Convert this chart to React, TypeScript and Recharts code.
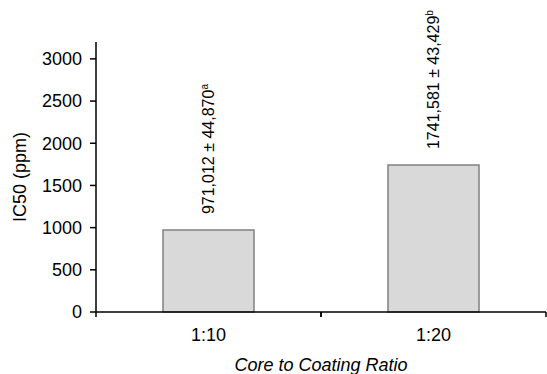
import { Bar, BarChart, Label, LabelList, XAxis, YAxis } from "recharts";

const ratios = ["1:10", "1:20"];
const ic50 = [971.012, 1741.581];
const ic50Notes = ["971,012 ± 44,870", "1741,581 ± 43,429"];
const letters = ["a", "b"];
const yTicks = [0, 500, 1000, 1500, 2000, 2500, 3000];

const data = ratios.map((ratio, i) => ({ ratio, ic50: ic50[i] }));

const W = 547;
const H = 374;
const LEFT = 96;
const RIGHT = 1;
const BAND = (W - LEFT - RIGHT) / ratios.length;
const FONT = "'Liberation Sans', Arial, sans-serif";

const XTick = (props: any) => {
  const { x, y, payload } = props;
  return (
    <g>
      <line x1={x - BAND / 2} x2={x - BAND / 2} y1={y} y2={y + 5} stroke="#000" strokeWidth={1.5} />
      <line x1={x + BAND / 2} x2={x + BAND / 2} y1={y} y2={y + 5} stroke="#000" strokeWidth={1.5} />
      <text x={x} y={y + 29} textAnchor="middle" fontSize={18} fill="#000" fontFamily={FONT}>
        {payload.value}
      </text>
    </g>
  );
};

const BarNote = (props: any) => {
  const { x, y, width, index } = props;
  const tx = x + width / 2 + 6;
  const ty = y - 16;
  return (
    <text x={tx} y={ty} transform={`rotate(-90 ${tx} ${ty})`} fontSize={16} fill="#000" fontFamily={FONT}>
      {ic50Notes[index]}
      <tspan fontSize={10} dy={-6}>{letters[index]}</tspan>
    </text>
  );
};

export default function App() {
  return (
    <div style={{ width: W, height: H }}>
      <style>{"body{margin:0}"}</style>
      <BarChart width={W} height={H} data={data} margin={{ top: 42, right: RIGHT, bottom: 0, left: 0 }}>
        <XAxis
          dataKey="ratio"
          height={62}
          tickSize={0}
          tickMargin={0}
          tick={<XTick />}
          axisLine={{ stroke: "#000", strokeWidth: 1.5 }}
        >
          <Label
            content={(p: any) => {
              const vb = p.viewBox;
              return (
                <text x={vb.x + vb.width / 2} y={371} textAnchor="middle" fontSize={18} fontStyle="italic" fill="#000" fontFamily={FONT}>
                  Core to Coating Ratio
                </text>
              );
            }}
          />
        </XAxis>
        <YAxis
          width={LEFT}
          domain={[0, 3200]}
          ticks={yTicks}
          interval={0}
          tickSize={6}
          tickMargin={8}
          axisLine={{ stroke: "#000", strokeWidth: 1.5 }}
          tickLine={{ stroke: "#000", strokeWidth: 1.5 }}
          tick={{ fill: "#000", fontSize: 18, fontFamily: FONT }}
        >
          <Label
            content={(p: any) => {
              const vb = p.viewBox;
              const cy = vb.y + vb.height / 2;
              return (
                <text x={26} y={cy} transform={`rotate(-90 26 ${cy})`} textAnchor="middle" fontSize={18} fill="#000" fontFamily={FONT}>
                  IC50 (ppm)
                </text>
              );
            }}
          />
        </YAxis>
        <Bar dataKey="ic50" barSize={91} fill="#d9d9d9" stroke="#808080" strokeWidth={1.5} isAnimationActive={false}>
          <LabelList dataKey="ic50" content={<BarNote />} />
        </Bar>
      </BarChart>
    </div>
  );
}
